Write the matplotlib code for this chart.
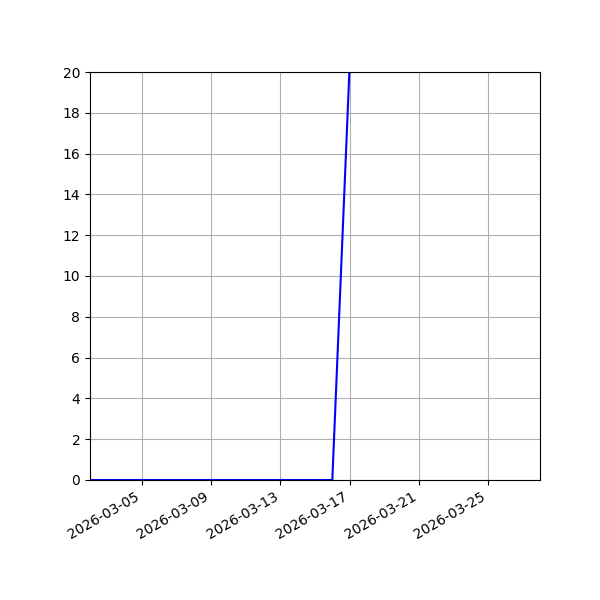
import datetime as dt

import matplotlib
matplotlib.use('Agg')
import matplotlib.pyplot as plt
import matplotlib.dates as mdates

# daily counts
dates = [dt.date(2026, 3, d) for d in range(2, 18)]
values = [0] * 15 + [20.3]

fig, ax = plt.subplots(figsize=(6, 6), dpi=100)
ax.plot(dates, values, color='blue')

ax.set_xlim(dt.date(2026, 3, 2), dt.date(2026, 3, 28))
ax.set_ylim(0, 20)
ax.set_yticks(range(0, 21, 2))
ax.xaxis.set_major_locator(mdates.DayLocator(bymonthday=range(1, 32, 4)))
ax.xaxis.set_major_formatter(mdates.DateFormatter('%Y-%m-%d'))
ax.grid(True)

fig.autofmt_xdate()
fig.subplots_adjust(left=0.15, right=0.9, top=0.88, bottom=0.2)
fig.savefig('out.png')
